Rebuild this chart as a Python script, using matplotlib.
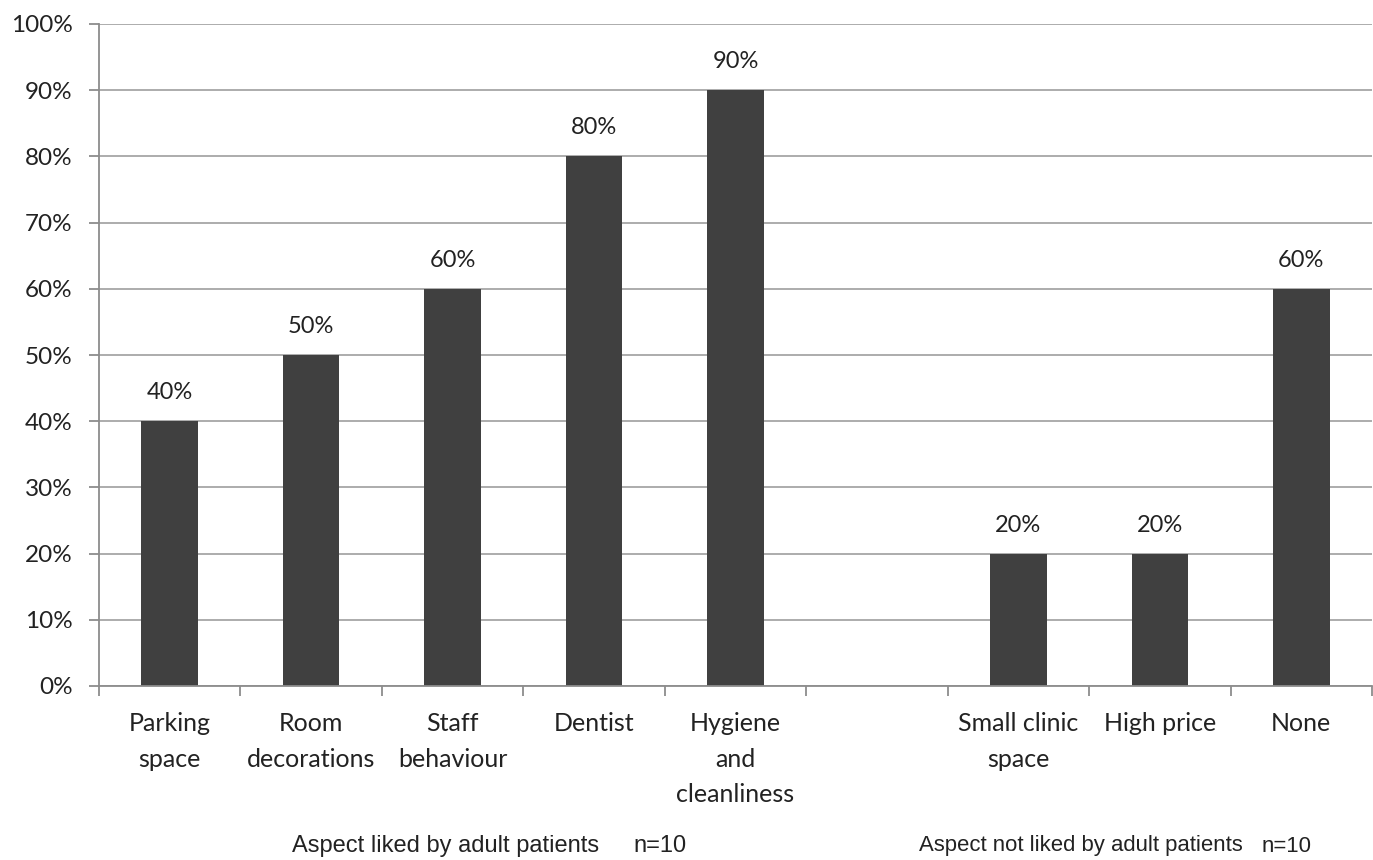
import numpy as np
import matplotlib.pyplot as plt

# Data
liked_labels = ['Parking\nspace', 'Room\ndecorations', 'Staff\nbehaviour', 'Dentist', 'Hygiene\nand\ncleanliness']
liked_values = [40, 50, 60, 80, 90]
not_liked_labels = ['Small clinic\nspace', 'High price', 'None']
not_liked_values = [20, 20, 60]
yticks = [0, 10, 20, 30, 40, 50, 60, 70, 80, 90, 100]

# one empty slot between the two groups
labels = liked_labels + [''] + not_liked_labels
values = liked_values + [np.nan] + not_liked_values
x = np.arange(len(labels))

fig = plt.figure(figsize=(13.73, 8.6), dpi=100)
ax = fig.add_axes([99 / 1373, 1 - 686 / 860, 1273 / 1373, 662 / 860])

plt.rcParams['font.family'] = ['Lato', 'DejaVu Sans']
ax.set_axisbelow(True)
ax.yaxis.grid(True, color='#a6a6a6', linewidth=1.3)
bars = ax.bar(x, values, width=0.4, color='#404040')

for xi, v in zip(x, values):
    if not np.isnan(v):
        ax.annotate(f'{v:.0f}%', (xi, v), xytext=(0, 13), textcoords='offset points',
                    ha='center', va='bottom', fontsize=17, color='#222222', family='Lato')

ax.set_xlim(-0.5, len(labels) - 0.5)
ax.set_ylim(0, 100)
ax.set_yticks(yticks)
ax.set_yticklabels([f'{t}%' for t in yticks], fontsize=17.5, color='#222222', family='Lato')
ax.set_xticks(x)
ax.set_xticklabels(labels, fontsize=18, color='#222222', family='Lato', linespacing=1.65, va='top')
ax.set_xticks(np.arange(len(labels) + 1) - 0.5, minor=True)
ax.tick_params(axis='x', which='major', length=0, pad=19)
ax.tick_params(axis='x', which='minor', length=7, color='#8c8c8c', width=1.3)
ax.tick_params(axis='y', length=7, color='#8c8c8c', width=1.3, pad=12)

for side in ['top', 'right']:
    ax.spines[side].set_visible(False)
for side in ['left', 'bottom']:
    ax.spines[side].set_color('#8c8c8c')
    ax.spines[side].set_linewidth(1.3)

cap_y = 1 - 846 / 860
cap = dict(family='Liberation Sans', color='#222222', va='center')
fig.text(292 / 1373, cap_y, 'Aspect liked by adult patients', fontsize=17, **cap)
fig.text(633 / 1373, cap_y, 'n=10', fontsize=17, **cap)
fig.text(919 / 1373, cap_y, 'Aspect not liked by adult patients', fontsize=15.9, **cap)
fig.text(1262 / 1373, cap_y, 'n=10', fontsize=15.9, **cap)

fig.savefig('out.png', dpi=100)
